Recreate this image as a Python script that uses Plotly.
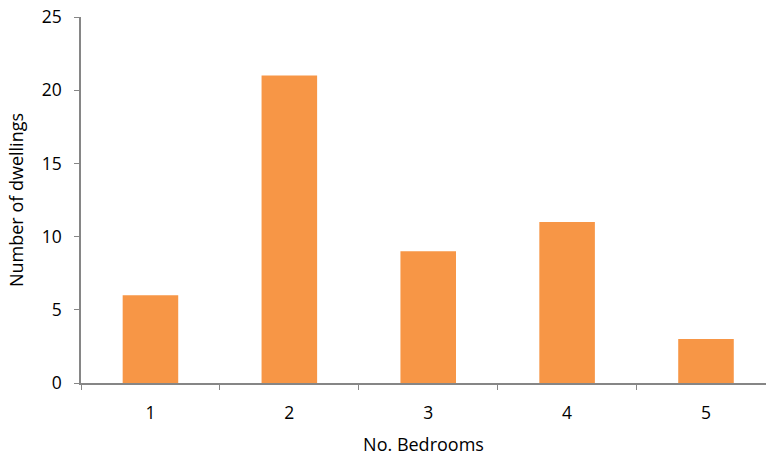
import plotly.graph_objects as go

bedrooms = ["1", "2", "3", "4", "5"]
dwellings = [6, 21, 9, 11, 3]
y_ticks = [0, 5, 10, 15, 20, 25]

axis_grey = "#868686"
bar_orange = "#F79646"
font_family = "Open Sans, Liberation Sans, sans-serif"

fig = go.Figure(
    go.Bar(
        x=bedrooms,
        y=dwellings,
        marker=dict(color=bar_orange, line=dict(width=0)),
        width=0.4,
    )
)

fig.update_layout(
    width=766,
    height=457,
    margin=dict(l=81, r=0, t=17, b=74),
    paper_bgcolor="white",
    plot_bgcolor="white",
    font=dict(family=font_family, size=15, color="#000000"),
    showlegend=False,
)

fig.update_xaxes(
    type="category",
    range=[-0.5, 4.432],
    tickson="boundaries",
    ticks="outside",
    ticklen=5,
    tickcolor=axis_grey,
    showline=True,
    linecolor=axis_grey,
    linewidth=1.5,
    showgrid=False,
    zeroline=False,
    ticklabelstandoff=13,
    title=dict(text="No. Bedrooms", standoff=16),
    tickfont=dict(size=17.5),
)

fig.update_yaxes(
    range=[0, 25],
    tickvals=y_ticks,
    ticks="outside",
    ticklen=5,
    tickcolor=axis_grey,
    showline=True,
    linecolor=axis_grey,
    linewidth=1.5,
    showgrid=False,
    zeroline=False,
    ticklabelstandoff=9,
    title=dict(text="Number of dwellings", standoff=13),
    tickfont=dict(size=17.5),
)

fig.write_html("out.html")
